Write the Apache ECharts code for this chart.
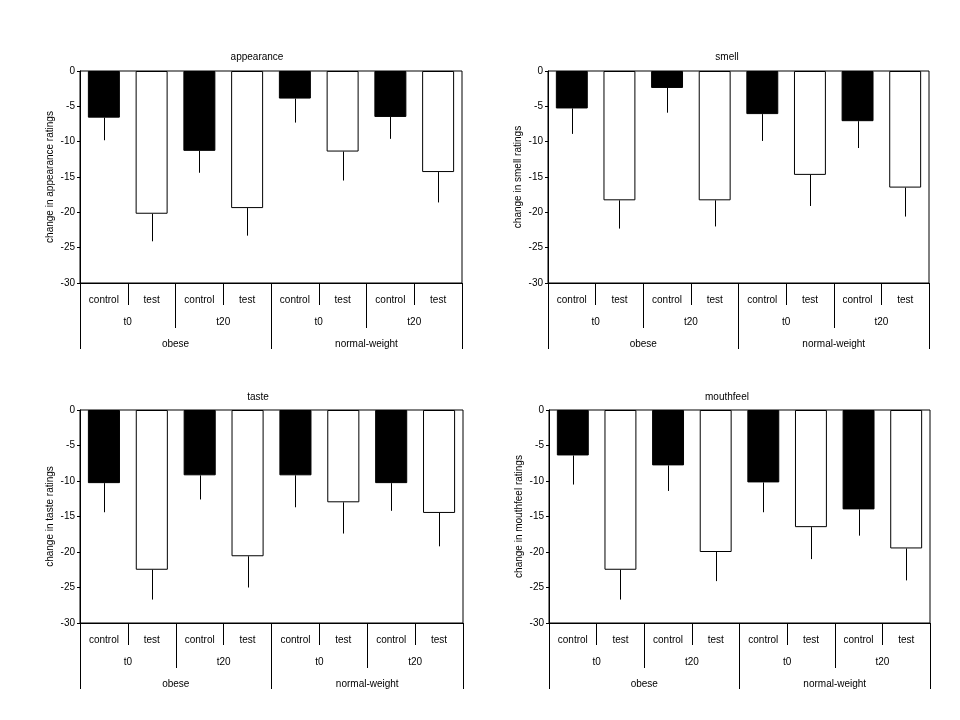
<!DOCTYPE html>
<html>
<head>
<meta charset="utf-8">
<script src="https://cdn.jsdelivr.net/npm/echarts@6/dist/echarts.min.js"></script>
<style>html,body{margin:0;padding:0;background:#fff}#c{width:960px;height:720px}</style>
</head>
<body>
<div id="c"></div>
<script>
// ---- data ----
const conditions = ['control', 'test', 'control', 'test', 'control', 'test', 'control', 'test'];
const times = ['t0', 't20', 't0', 't20'];
const groups = ['obese', 'normal-weight'];
const titles = ['appearance', 'smell', 'taste', 'mouthfeel'];
const yNames = ['change in appearance ratings', 'change in smell ratings', 'change in taste ratings', 'change in mouthfeel ratings'];
const yMin = -30, yMax = 0, yStep = 5;

const appearanceMean = [-6.6, -20.2, -11.3, -19.4, -3.9, -11.4, -6.5, -14.3];
const appearanceErr  = [3.2, 3.9, 3.1, 3.9, 3.4, 4.1, 3.1, 4.3];
const smellMean = [-5.3, -18.3, -2.4, -18.3, -6.1, -14.7, -7.1, -16.5];
const smellErr  = [3.6, 4.0, 3.5, 3.7, 3.8, 4.4, 3.8, 4.1];
const tasteMean = [-10.3, -22.5, -9.2, -20.6, -9.2, -13.0, -10.3, -14.5];
const tasteErr  = [4.1, 4.2, 3.4, 4.4, 4.5, 4.4, 3.9, 4.7];
const mouthfeelMean = [-6.4, -22.5, -7.8, -20.0, -10.2, -16.5, -14.0, -19.5];
const mouthfeelErr  = [4.1, 4.2, 3.6, 4.1, 4.2, 4.5, 3.7, 4.5];

const means = [appearanceMean, smellMean, tasteMean, mouthfeelMean];
const errs = [appearanceErr, smellErr, tasteErr, mouthfeelErr];

// ---- layout ----
const FONT = '"Liberation Sans", Arial, sans-serif';
const gridsPos = [
  {left: 80, top: 71, width: 382, height: 212, titleX: 252, titleY: 47},
  {left: 548, top: 71, width: 381, height: 212, titleX: 722, titleY: 47},
  {left: 80, top: 410, width: 383, height: 213, titleX: 253, titleY: 387},
  {left: 549, top: 410, width: 381, height: 213, titleX: 722, titleY: 387}
];

const option = {
  backgroundColor: '#fff',
  animation: false,
  textStyle: {fontFamily: FONT, color: '#000'},
  title: [], grid: [], xAxis: [], yAxis: [], series: []
};

function catAxis(gi, data, tickLen, margin, showLine) {
  return {
    type: 'category', gridIndex: gi, position: 'bottom', data: data,
    boundaryGap: true,
    axisLine: {show: showLine, onZero: false, lineStyle: {color: '#000', width: 1}},
    axisTick: {show: true, alignWithLabel: false, interval: 0, length: tickLen, lineStyle: {color: '#000', width: 1}},
    axisLabel: {show: true, interval: 0, margin: margin, fontSize: 10, color: '#000', fontFamily: FONT},
    splitLine: {show: false}
  };
}

function valAxis(gi, visible, name) {
  return {
    type: 'value', gridIndex: gi, min: yMin, max: yMax, interval: yStep, show: visible,
    name: visible ? name : '', nameLocation: 'middle', nameGap: 25,
    nameTextStyle: {fontSize: 10, color: '#000', fontFamily: FONT},
    axisLine: {show: true, onZero: false, lineStyle: {color: '#000', width: 1}},
    axisTick: {show: true, length: 3, lineStyle: {color: '#000'}},
    axisLabel: {fontSize: 10, color: '#000', margin: 5, fontFamily: FONT},
    splitLine: {show: false}
  };
}

const levels = [
  {data: conditions, tick: 22, margin: 12},
  {data: times, tick: 45, margin: 34},
  {data: groups, tick: 66, margin: 56}
];

for (let p = 0; p < 4; p++) {
  const g = gridsPos[p];
  option.title.push({
    text: titles[p], left: g.titleX, top: g.titleY, textAlign: 'center',
    textStyle: {fontSize: 10, fontWeight: 'normal', color: '#000', fontFamily: FONT}
  });
  for (let l = 0; l < 3; l++) {
    const gi = 3 * p + l;
    option.grid.push({
      left: g.left, top: g.top, width: g.width, height: g.height,
      show: l === 0, borderColor: '#000', borderWidth: 1, backgroundColor: 'transparent'
    });
    option.xAxis.push(catAxis(gi, levels[l].data, levels[l].tick, levels[l].margin, l === 0));
    option.yAxis.push(valAxis(gi, l === 0, yNames[p]));
  }
  const ai = 3 * p;
  option.series.push({
    type: 'bar', xAxisIndex: ai, yAxisIndex: ai,
    barWidth: '67%',
    data: means[p].map((v, i) => ({
      value: v,
      itemStyle: {color: i % 2 === 0 ? '#000' : '#fff', borderColor: '#000', borderWidth: 1}
    })),
    z: 2
  });
  option.series.push({
    type: 'custom', xAxisIndex: ai, yAxisIndex: ai,
    data: means[p].map((v, i) => [i, v, errs[p][i]]),
    encode: {x: 0, y: 1},
    renderItem: function (params, api) {
      const x = api.value(0), v = api.value(1), e = api.value(2);
      const a = api.coord([x, v]);
      const b = api.coord([x, v - e]);
      const px = Math.round(a[0]) + 0.5;
      return {
        type: 'line',
        shape: {x1: px, y1: a[1], x2: px, y2: b[1]},
        style: {stroke: '#000', lineWidth: 1}
      };
    },
    z: 3
  });
}

const chart = echarts.init(document.getElementById('c'), null, {renderer: 'canvas'});
chart.setOption(option);
</script>
</body>
</html>
